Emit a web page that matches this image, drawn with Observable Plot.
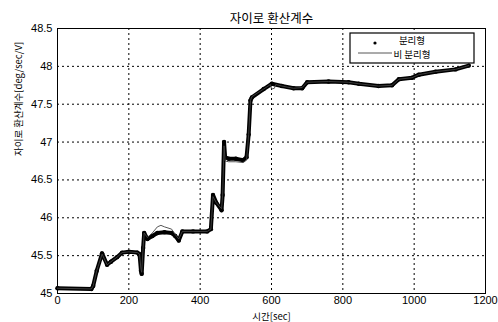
<!DOCTYPE html>
<html>
<head>
<meta charset="utf-8">
<script src="https://cdn.jsdelivr.net/npm/d3@7"></script>
<script src="https://cdn.jsdelivr.net/npm/@observablehq/plot@0.6"></script>
<style>
  html, body { margin: 0; padding: 0; background: #fff; }
  #chart { width: 498px; height: 322px; }
</style>
</head>
<body>
<div id="chart"></div>
<script>
const title = "자이로 환산계수";
const xLabel = "시간[sec]";
const yLabel = "자이로 환산계수[deg/sec/V]";
const legendLabels = ["분리형", "비 분리형"];
const xTicks = [0, 200, 400, 600, 800, 1000, 1200];
const yTicks = [45, 45.5, 46, 46.5, 47, 47.5, 48, 48.5];

// 분리형 (separated) — thick dotted trace
const sepTime = [0, 95, 100, 110, 125, 139, 150, 167, 181, 200, 224, 230, 234, 236, 240, 243, 252, 266, 280, 300, 320, 330, 340, 350, 380, 420, 430, 436, 445, 460, 463, 467, 470, 480, 500, 520, 530, 536, 541, 545, 578, 601, 629, 662, 686, 700, 760, 816, 845, 900, 938, 957, 994, 1013, 1060, 1116, 1153];
const sepValue = [45.07, 45.06, 45.1, 45.3, 45.53, 45.38, 45.42, 45.48, 45.54, 45.55, 45.54, 45.52, 45.3, 45.26, 45.6, 45.8, 45.72, 45.76, 45.8, 45.81, 45.8, 45.76, 45.70, 45.82, 45.82, 45.82, 45.85, 46.3, 46.2, 46.1, 46.3, 47.0, 46.8, 46.78, 46.78, 46.76, 46.8, 47.1, 47.55, 47.59, 47.7, 47.77, 47.74, 47.71, 47.71, 47.79, 47.8, 47.79, 47.77, 47.74, 47.75, 47.83, 47.85, 47.89, 47.93, 47.96, 48.01];

// 비 분리형 (non-separated) — thin trace
const nonTime = [0, 95, 100, 110, 125, 139, 150, 167, 181, 200, 224, 230, 234, 236, 240, 243, 252, 266, 280, 290, 300, 320, 330, 340, 350, 380, 420, 430, 436, 445, 460, 463, 467, 470, 480, 500, 520, 530, 536, 541, 545, 578, 597, 600, 608, 612, 629, 662, 686, 700, 760, 816, 845, 900, 938, 957, 994, 1013, 1060, 1116, 1153];
const nonValue = [45.07, 45.06, 45.1, 45.3, 45.52, 45.38, 45.42, 45.48, 45.54, 45.55, 45.54, 45.52, 45.32, 45.28, 45.6, 45.8, 45.74, 45.8, 45.88, 45.9, 45.88, 45.85, 45.78, 45.72, 45.82, 45.82, 45.82, 45.85, 46.28, 46.2, 46.12, 46.3, 46.95, 46.75, 46.74, 46.74, 46.73, 46.76, 47.1, 47.55, 47.6, 47.7, 47.76, 47.7, 47.71, 47.76, 47.74, 47.71, 47.72, 47.79, 47.8, 47.79, 47.77, 47.74, 47.75, 47.83, 47.85, 47.89, 47.93, 47.96, 48.01];

const sep = sepTime.map((t, i) => ({t, v: sepValue[i]}));
const non = nonTime.map((t, i) => ({t, v: nonValue[i]}));

const tickFont = "'Liberation Sans', Arial, sans-serif";
const krFont = "'Noto Sans CJK KR', 'Liberation Sans', sans-serif";

const plot = Plot.plot({
  width: 498,
  height: 322,
  marginLeft: 57,
  marginRight: 13,
  marginTop: 28,
  marginBottom: 29,
  style: {fontFamily: tickFont, fontSize: "11px", color: "black", background: "white"},
  x: {domain: [0, 1200], ticks: xTicks},
  y: {domain: [45, 48.5], ticks: yTicks},
  marks: [
    Plot.gridX(xTicks, {stroke: "black", strokeOpacity: 1, strokeDasharray: "2,3", strokeWidth: 1}),
    Plot.gridY(yTicks, {stroke: "black", strokeOpacity: 1, strokeDasharray: "2,3", strokeWidth: 1}),
    Plot.axisX(xTicks, {tickSize: 0, tickPadding: 3, label: null, fontSize: 11, tickFormat: d => String(d)}),
    Plot.axisY(yTicks, {tickSize: 0, tickPadding: 5, label: null, fontSize: 11, tickFormat: d => String(d)}),
    Plot.frame({stroke: "black", strokeWidth: 1}),
    Plot.line(sep, {x: "t", y: "v", stroke: "black", strokeWidth: 4, strokeLinejoin: "round"}),
    Plot.dot(sep, {x: "t", y: "v", r: 2.2, fill: "black"}),
    Plot.line(non, {x: "t", y: "v", stroke: "#444", strokeWidth: 0.9}),
    Plot.text([title], {frameAnchor: "top", dy: -14.5, fontFamily: krFont, fontSize: 12.5, fill: "black"}),
    Plot.text([xLabel], {frameAnchor: "bottom", dy: 26, lineAnchor: "bottom", fontFamily: krFont, fontSize: 9.5, fill: "black"}),
    Plot.text([yLabel], {frameAnchor: "left", dx: -39, dy: -5, rotate: -90, fontFamily: krFont, fontSize: 9.5, fill: "black"})
  ]
});

document.getElementById("chart").appendChild(plot);

// Legend box in the upper right of the plot area
const svg = d3.select(plot);
const lx = 350, ly = 33, lw = 124, lh = 30;
const g = svg.append("g");
g.append("rect").attr("x", lx).attr("y", ly).attr("width", lw).attr("height", lh)
  .attr("fill", "white").attr("stroke", "black").attr("stroke-width", 1.2);
g.append("circle").attr("cx", lx + 25).attr("cy", ly + 10).attr("r", 1.6).attr("fill", "black");
g.append("line").attr("x1", lx + 8).attr("x2", lx + 42).attr("y1", ly + 20).attr("y2", ly + 20)
  .attr("stroke", "#444").attr("stroke-width", 0.9);
g.append("text").attr("x", lx + 62).attr("y", ly + 8).attr("dy", "0.35em")
  .attr("font-family", krFont).attr("font-size", 9.5).text(legendLabels[0]);
g.append("text").attr("x", lx + 62).attr("y", ly + 21.5).attr("dy", "0.35em")
  .attr("font-family", krFont).attr("font-size", 9.5).text(legendLabels[1]);
</script>
</body>
</html>
